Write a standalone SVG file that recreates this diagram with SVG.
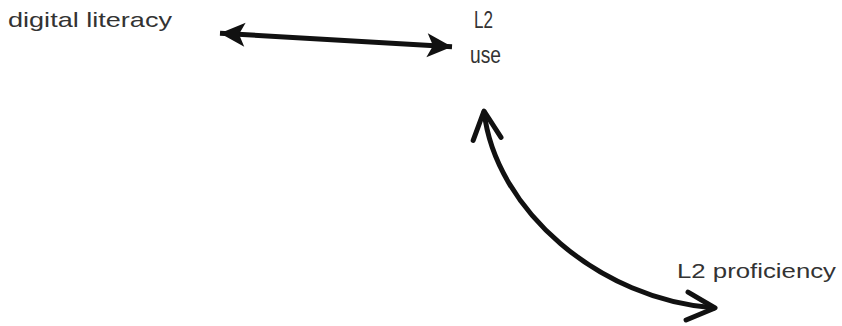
<svg xmlns="http://www.w3.org/2000/svg" width="842" height="326" viewBox="0 0 842 326">
<defs>
<style>
.lbl{font-family:"Liberation Sans","Open Sans",sans-serif;font-size:21px;fill:#333}
.big{font-size:23px}
.conn{fill:none;stroke:#111;stroke-width:5}
</style>
<marker id="solid" markerUnits="userSpaceOnUse" markerWidth="30" markerHeight="30" viewBox="-28 -15 30 30" refX="0" refY="0" orient="auto-start-reverse">
<path d="M0,0 L-25,-12 L-19,0 L-25,12 Z" fill="#111"/>
</marker>
<marker id="open" markerUnits="userSpaceOnUse" markerWidth="40" markerHeight="40" viewBox="-32 -20 40 40" refX="0" refY="0" orient="auto-start-reverse">
<path d="M-28,-14 L0,0 L-28,14" fill="none" stroke="#111" stroke-width="5" stroke-linecap="round" stroke-linejoin="round"/>
</marker>
</defs>
<rect width="842" height="326" fill="#fff"/>
<g id="digital-literacy"><text class="lbl" x="8" y="27" textLength="164" lengthAdjust="spacingAndGlyphs">digital  literacy</text></g>
<g id="l2-use"><text class="lbl big" x="474" y="28" textLength="19" lengthAdjust="spacingAndGlyphs">L2</text><text class="lbl big" x="470" y="63" textLength="31" lengthAdjust="spacingAndGlyphs">use</text></g>
<g id="l2-proficiency"><text class="lbl" x="677" y="278" textLength="159" lengthAdjust="spacingAndGlyphs">L2 proficiency</text></g>
<g id="connectors">
<path class="conn" d="M220,33.2 L452,46.8" marker-start="url(#solid)" marker-end="url(#solid)"/>
<path class="conn" d="M484,111 C495,210 600,300 715,308" marker-start="url(#open)" marker-end="url(#open)"/>
</g>
</svg>
